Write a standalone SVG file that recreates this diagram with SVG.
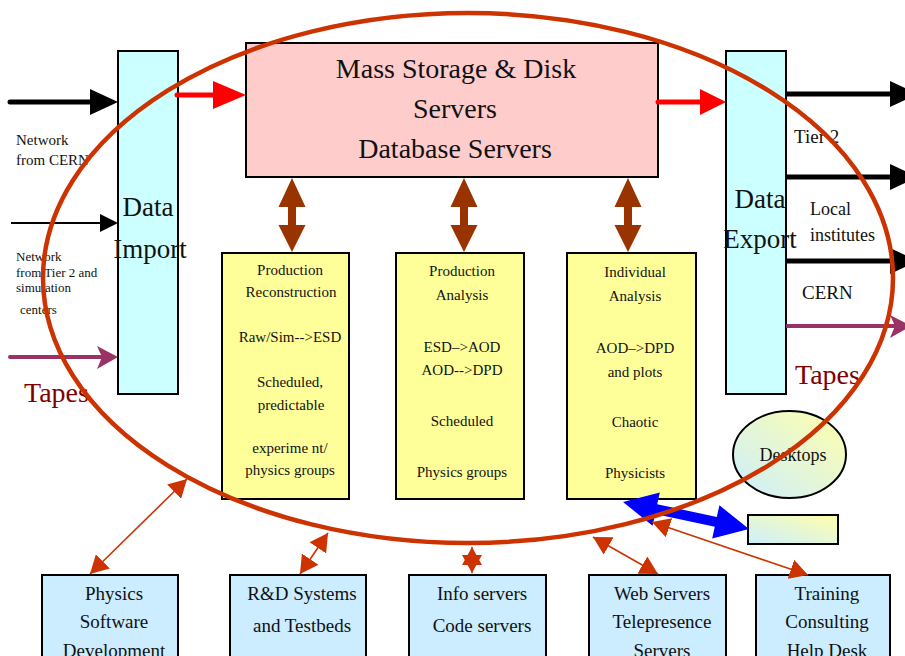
<svg xmlns="http://www.w3.org/2000/svg" width="905" height="656" viewBox="0 0 905 656">
<style>
text{font-family:"Liberation Serif","Times New Roman",serif;fill:#111;}
.box{stroke:#000;stroke-width:2;}
.io{fill:#CCFFFF;}
.yel{fill:#FFFF99;}
.blu{fill:#CCECFF;}
.t15{font-size:15px;text-anchor:middle;}
.t19{font-size:19px;text-anchor:middle;}
.tape{font-size:28px;fill:#800000;}
.orange{stroke:#CC3300;stroke-width:1.6;fill:none;marker-start:url(#oh);marker-end:url(#oh);}
</style>
<defs>
<marker id="oh" viewBox="0 0 18 20" refX="18" refY="10" markerWidth="18" markerHeight="20" markerUnits="userSpaceOnUse" orient="auto-start-reverse">
<path d="M0,0 L18,10 L0,20 z" fill="#CC3300"/>
</marker>
<linearGradient id="grad" x1="0" y1="1" x2="1" y2="0">
<stop offset="0" stop-color="#CCEEFF"/>
<stop offset="1" stop-color="#FFFFAA"/>
</linearGradient>
</defs>

<g id="data-import">
<rect class="box io" x="118" y="51" width="60" height="343"/>
<text x="148" y="216" font-size="27" text-anchor="middle">Data</text>
<text x="150" y="258" font-size="27" text-anchor="middle">Import</text>
</g>

<g id="data-export">
<rect class="box io" x="726" y="51" width="60" height="343"/>
<text x="760" y="208" font-size="27" text-anchor="middle">Data</text>
<text x="760" y="248" font-size="27" text-anchor="middle">Export</text>
</g>

<g id="mass-storage">
<rect class="box" fill="#FFCCCC" x="246" y="43" width="412" height="134"/>
<text x="456" y="78" font-size="28" text-anchor="middle">Mass Storage &amp; Disk</text>
<text x="455" y="118" font-size="28" text-anchor="middle">Servers</text>
<text x="455" y="158" font-size="28" text-anchor="middle">Database Servers</text>
</g>

<g id="production-reconstruction">
<rect class="box yel" x="222" y="253" width="127" height="246"/>
<text class="t15" x="290" y="275">Production</text>
<text class="t15" x="291" y="297">Reconstruction</text>
<text class="t15" x="290" y="342">Raw/Sim--&gt;ESD</text>
<text class="t15" x="290" y="387">Scheduled,</text>
<text class="t15" x="291" y="410">predictable</text>
<text class="t15" x="290" y="453">experime nt/</text>
<text class="t15" x="290" y="475">physics groups</text>
</g>

<g id="production-analysis">
<rect class="box yel" x="396" y="253" width="128" height="246"/>
<text class="t15" x="462" y="276">Production</text>
<text class="t15" x="462" y="300">Analysis</text>
<text class="t15" x="462" y="352">ESD–&gt;AOD</text>
<text class="t15" x="462" y="375">AOD--&gt;DPD</text>
<text class="t15" x="462" y="426">Scheduled</text>
<text class="t15" x="462" y="477">Physics groups</text>
</g>

<g id="individual-analysis">
<rect class="box yel" x="567" y="253" width="129" height="246"/>
<text class="t15" x="635" y="277">Individual</text>
<text class="t15" x="635" y="301">Analysis</text>
<text class="t15" x="635" y="353">AOD–&gt;DPD</text>
<text class="t15" x="635" y="377">and plots</text>
<text class="t15" x="635" y="427">Chaotic</text>
<text class="t15" x="635" y="478">Physicists</text>
</g>

<g id="desktops">
<ellipse cx="789.5" cy="454.5" rx="56.5" ry="43.5" fill="url(#grad)" stroke="#000" stroke-width="2"/>
<text x="793" y="461" font-size="18" text-anchor="middle">Desktops</text>
</g>

<g id="small-box">
<rect x="748" y="515" width="90" height="29" fill="url(#grad)" stroke="#000" stroke-width="2"/>
</g>

<g id="physics-software">
<rect class="box blu" x="42" y="575" width="136" height="100"/>
<text class="t19" x="114" y="600">Physics</text>
<text class="t19" x="114" y="628">Software</text>
<text class="t19" x="114" y="657">Development</text>
</g>

<g id="rd-systems">
<rect class="box blu" x="230" y="575" width="136" height="100"/>
<text class="t19" x="302" y="600">R&amp;D Systems</text>
<text class="t19" x="302" y="632">and Testbeds</text>
</g>

<g id="info-servers">
<rect class="box blu" x="409" y="575" width="137" height="100"/>
<text class="t19" x="482" y="600">Info servers</text>
<text class="t19" x="482" y="632">Code servers</text>
</g>

<g id="web-servers">
<rect class="box blu" x="589" y="575" width="137" height="100"/>
<text class="t19" x="662" y="600">Web Servers</text>
<text class="t19" x="662" y="628">Telepresence</text>
<text class="t19" x="662" y="657">Servers</text>
</g>

<g id="training">
<rect class="box blu" x="756" y="575" width="134" height="100"/>
<text class="t19" x="827" y="600">Training</text>
<text class="t19" x="827" y="628">Consulting</text>
<text class="t19" x="827" y="657">Help Desk</text>
</g>

<g id="labels">
<text x="16" y="145" font-size="15">Network</text>
<text x="16" y="165" font-size="15">from CERN</text>
<text x="16" y="261" font-size="13">Network</text>
<text x="16" y="277" font-size="13">from Tier 2 and</text>
<text x="16" y="292" font-size="13">simulation</text>
<text x="20" y="314" font-size="13">centers</text>
<text class="tape" x="24" y="402">Tapes</text>
<text class="tape" x="795" y="384">Tapes</text>
<text x="794" y="143" font-size="19">Tier 2</text>
<text x="810" y="215" font-size="18">Local</text>
<text x="810" y="241" font-size="18">institutes</text>
<text x="802" y="299" font-size="19">CERN</text>
</g>

<g id="connectors">
<!-- incoming network arrows -->
<line x1="10" y1="102" x2="92" y2="102" stroke="#000" stroke-width="5" stroke-linecap="round"/>
<polygon points="90,89 118,102 90,115" fill="#000"/>
<line x1="11" y1="223" x2="102" y2="223" stroke="#000" stroke-width="2"/>
<polygon points="100,214 118,223 100,232" fill="#000"/>
<line x1="10" y1="357" x2="112" y2="357" stroke="#993366" stroke-width="4" stroke-linecap="round"/>
<polygon points="97,346 118,357 97,369 102,357" fill="#993366"/>
<!-- red data flow -->
<line x1="177" y1="95" x2="216" y2="95" stroke="#FF0000" stroke-width="5" stroke-linecap="round"/>
<polygon points="213,81 246,95 213,109" fill="#FF0000"/>
<line x1="658" y1="102" x2="702" y2="102" stroke="#FF0000" stroke-width="5" stroke-linecap="round"/>
<polygon points="700,89 726,102 700,115" fill="#FF0000"/>
<!-- outgoing -->
<line x1="786" y1="94" x2="892" y2="94" stroke="#000" stroke-width="5"/>
<polygon points="890,81 918,94 890,107" fill="#000"/>
<line x1="786" y1="177" x2="892" y2="177" stroke="#000" stroke-width="5"/>
<polygon points="890,164 918,177 890,190" fill="#000"/>
<line x1="786" y1="261" x2="892" y2="261" stroke="#000" stroke-width="5"/>
<polygon points="890,248 918,261 890,274" fill="#000"/>
<line x1="786" y1="326" x2="900" y2="326" stroke="#993366" stroke-width="4"/>
<polygon points="890,315 911,326 890,338 895,326" fill="#993366"/>
<!-- brown double arrows -->
<polygon points="292,178 305.5,207 296,207 296,225 305.5,225 292,252 278.5,225 288,225 288,207 278.5,207" fill="#993300"/>
<polygon points="464,178 477.5,207 468,207 468,225 477.5,225 464,252 450.5,225 460,225 460,207 450.5,207" fill="#993300"/>
<polygon points="628,178 641.5,207 632,207 632,225 641.5,225 628,252 614.5,225 624,225 624,207 614.5,207" fill="#993300"/>
<!-- blue double arrow -->
<polygon points="623,502 659.8,492.5 657.2,504.2 716.8,517 719.4,505.3 749,529 712.2,538.5 714.8,526.8 655.2,514 652.6,525.7" fill="#0000FF"/>
<!-- orange double arrows -->
<line class="orange" x1="90" y1="574" x2="187" y2="479"/>
<line class="orange" x1="300" y1="574" x2="328" y2="533"/>
<line class="orange" x1="472" y1="547" x2="472" y2="573"/>
<line class="orange" x1="593" y1="537" x2="658" y2="574"/>
<line class="orange" x1="652" y1="522" x2="808" y2="575"/>
</g>

<g id="scope-ellipse">
<ellipse cx="468" cy="278" rx="425" ry="265" fill="none" stroke="#CC3300" stroke-width="4.5"/>
</g>
</svg>
